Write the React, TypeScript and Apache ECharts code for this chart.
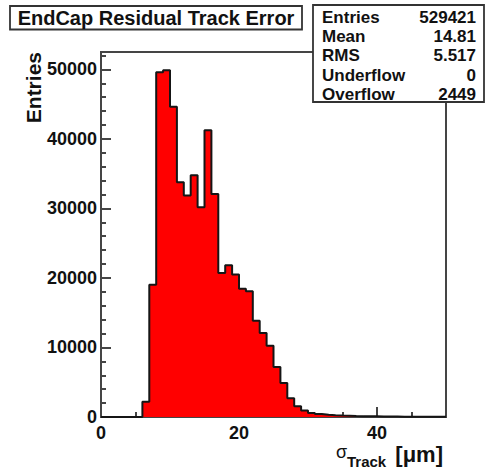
import React, { useEffect, useRef } from "react";
import * as echarts from "echarts";

// bin lower edges (width 1, range 0..50)
const binEdges: number[] = Array.from({ length: 51 }, (_, i) => i);
const binCounts: number[] = [
  0, 0, 0, 0, 0, 0, 2200, 19040, 49590, 49880,
  44610, 33760, 31850, 34770, 30160, 41240, 32090, 20720, 21820, 20480,
  18460, 18080, 13860, 12090, 10260, 7200, 4890, 2680, 1530, 950,
  575, 430, 330, 250, 200, 170, 140, 120, 100, 90,
  80, 70, 60, 50, 50, 40, 40, 30, 30, 30,
];
const xTickLabels = [0, 20, 40];
const yTickLabels = [0, 10000, 20000, 30000, 40000, 50000];
const statLabels = ["Entries", "Mean", "RMS", "Underflow", "Overflow"];
const statValues = ["529421", "14.81", "5.517", "0", "2449"];
const titleText = "EndCap Residual Track Error";

const FONT = "'Liberation Sans', Arial, Helvetica, sans-serif";

export default function App() {
  const ref = useRef<HTMLDivElement>(null);
  useEffect(() => {
    if (!ref.current) return;
    const chart = echarts.init(ref.current, undefined, { renderer: "svg" });

    const stepData: [number, number][] = binCounts.map((v, i) => [binEdges[i], v]);
    stepData.push([binEdges[binEdges.length - 1], binCounts[binCounts.length - 1]]);

    const gridLeft = 101;
    const gridTop = 52;
    const gridRight = 39;
    const gridBottom = 53;
    const axisColor = "#454545";

    const statTexts: any[] = [];
    statLabels.forEach((l, i) => {
      const y = 17 + i * 19.4;
      statTexts.push({
        type: "text",
        x: 322,
        y,
        z: 101,
        style: { text: l, font: `bold 17px ${FONT}`, fill: "#111", align: "left", verticalAlign: "middle" },
      });
      statTexts.push({
        type: "text",
        x: 476,
        y,
        z: 101,
        style: { text: statValues[i], font: `bold 17px ${FONT}`, fill: "#111", align: "right", verticalAlign: "middle" },
      });
    });

    chart.setOption({
      animation: false,
      backgroundColor: "#ffffff",
      grid: {
        left: gridLeft,
        top: gridTop,
        right: gridRight,
        bottom: gridBottom,
        show: true,
        borderColor: axisColor,
        borderWidth: 2,
        backgroundColor: "#ffffff",
      },
      xAxis: [
        {
          type: "value",
          min: 0,
          max: 50,
          interval: 20,
          position: "bottom",
          axisLine: { show: true, onZero: false, lineStyle: { color: axisColor, width: 2 } },
          axisTick: { show: true, inside: true, length: 10, lineStyle: { color: axisColor, width: 2 } },
          splitLine: { show: false },
          axisLabel: {
            show: true,
            showMaxLabel: false,
            margin: 7,
            fontFamily: FONT,
            fontWeight: "bold",
            fontSize: 18,
            color: "#111",
            formatter: (v: number) => (xTickLabels.includes(v) ? String(v) : ""),
          },
        },
        {
          type: "value",
          min: 0,
          max: 50,
          interval: 5,
          position: "bottom",
          axisLine: { show: false },
          axisTick: { show: true, inside: true, length: 5, lineStyle: { color: axisColor, width: 2 } },
          splitLine: { show: false },
          axisLabel: { show: false },
        },
      ],
      yAxis: [
        {
          type: "value",
          min: 0,
          max: 52500,
          interval: 10000,
          position: "left",
          axisLine: { show: true, onZero: false, lineStyle: { color: axisColor, width: 2 } },
          axisTick: { show: true, inside: true, length: 10, lineStyle: { color: axisColor, width: 2 } },
          splitLine: { show: false },
          axisLabel: {
            show: true,
            showMaxLabel: false,
            margin: 4,
            fontFamily: FONT,
            fontWeight: "bold",
            fontSize: 18,
            color: "#111",
            formatter: (v: number) => (yTickLabels.includes(v) ? String(v) : ""),
          },
        },
        {
          type: "value",
          min: 0,
          max: 52500,
          interval: 2000,
          position: "left",
          axisLine: { show: false },
          axisTick: { show: true, inside: true, length: 5, lineStyle: { color: axisColor, width: 2 } },
          splitLine: { show: false },
          axisLabel: { show: false },
        },
      ],
      series: [
        {
          type: "line",
          xAxisIndex: 0,
          yAxisIndex: 0,
          step: "end",
          data: stepData,
          showSymbol: false,
          symbol: "none",
          lineStyle: { color: "#151515", width: 2 },
          areaStyle: { color: "#ff0000", opacity: 1 },
          z: 3,
        },
      ],
      graphic: [
        {
          type: "rect",
          z: 100,
          shape: { x: 10, y: 6, width: 292, height: 23.5 },
          style: { fill: "#ffffff", stroke: "#333", lineWidth: 1.8 },
        },
        {
          type: "text",
          z: 101,
          x: 156,
          y: 18,
          style: { text: titleText, font: `bold 20px ${FONT}`, fill: "#111", align: "center", verticalAlign: "middle" },
        },
        {
          type: "rect",
          z: 100,
          shape: { x: 313, y: 5, width: 171, height: 97 },
          style: { fill: "#ffffff", stroke: "#333", lineWidth: 1.8 },
        },
        ...statTexts,
        {
          type: "text",
          z: 101,
          x: 33,
          y: 52,
          rotation: Math.PI / 2,
          style: { text: "Entries", font: `bold 21px ${FONT}`, fill: "#111", align: "right", verticalAlign: "middle" },
        },
        {
          type: "text",
          z: 101,
          x: 336,
          y: 452,
          style: { text: "σ", font: `18px ${FONT}`, fill: "#111", align: "left", verticalAlign: "middle" },
        },
        {
          type: "text",
          z: 101,
          x: 347,
          y: 461,
          style: { text: "Track", font: `bold 15px ${FONT}`, fill: "#111", align: "left", verticalAlign: "middle" },
        },
        {
          type: "text",
          z: 101,
          x: 443,
          y: 454,
          style: { text: "[μm]", font: `bold 22px ${FONT}`, fill: "#111", align: "right", verticalAlign: "middle" },
        },
      ],
    });

    return () => chart.dispose();
  }, []);

  return (
    <div
      ref={ref}
      style={{ position: "fixed", left: 0, top: 0, width: 485, height: 470, background: "#fff" }}
    />
  );
}
